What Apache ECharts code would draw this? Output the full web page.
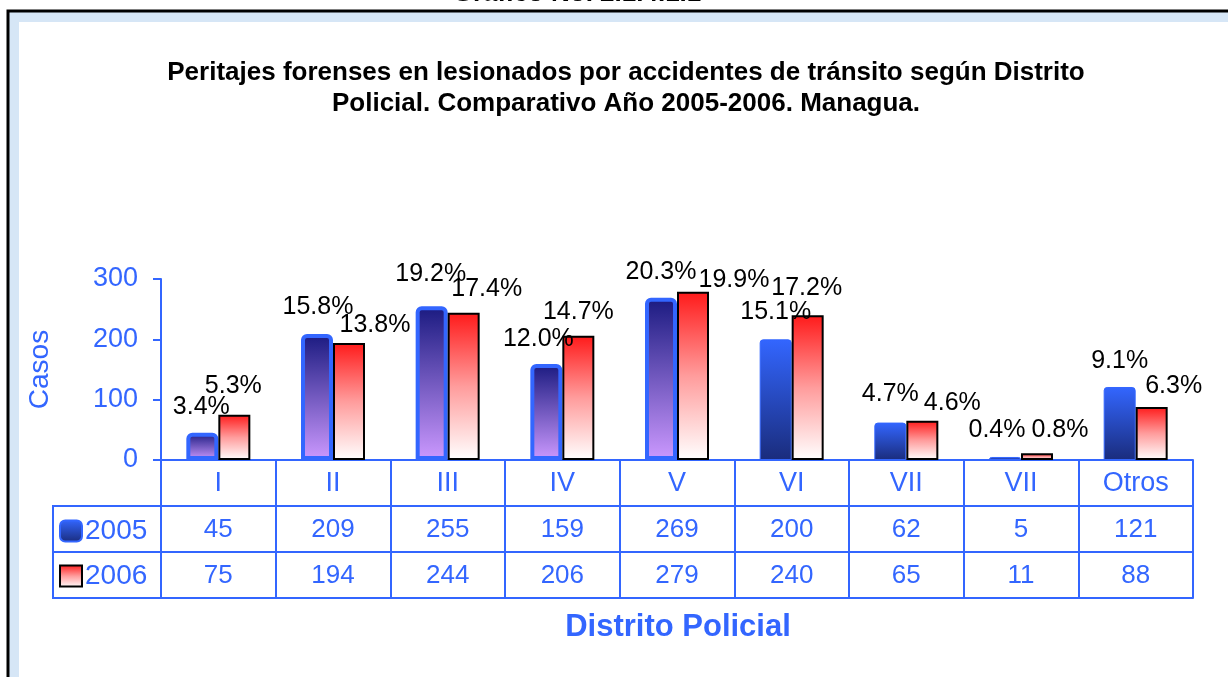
<!DOCTYPE html>
<html>
<head>
<meta charset="utf-8">
<script src="https://cdn.jsdelivr.net/npm/echarts@6/dist/echarts.min.js"></script>
<style>
  html, body { margin: 0; padding: 0; background: #fff; }
  #chart { width: 1228px; height: 677px; }
</style>
</head>
<body>
<div id="chart"></div>
<script>
const categories = ['I', 'II', 'III', 'IV', 'V', 'VI', 'VII', 'VII', 'Otros'];
const casos2005 = [45, 209, 255, 159, 269, 200, 62, 5, 121];
const casos2006 = [75, 194, 244, 206, 279, 240, 65, 11, 88];
const pct2005 = ['3.4%', '15.8%', '19.2%', '12.0%', '20.3%', '15.1%', '4.7%', '0.4%', '9.1%'];
const pct2006 = ['5.3%', '13.8%', '17.4%', '14.7%', '19.9%', '17.2%', '4.6%', '0.8%', '6.3%'];
const yMax = 300;
const yStep = 100;

// ajustes de etiqueta como en el original: [dx, altura sobre la barra]
const shift2005 = [[-1, 26], [1, 27], [-1, 32], [-8, 25], [0, 26], [0, 27], [0, 28], [-8, 27], [0, 26]];
const shift2006 = [[-1, 29], [26, 18], [23, 24], [0, 24], [41, 12], [-1, 27], [30, 18], [23, 23], [22, 21]];
// las cinco primeras barras de 2005 llevan el degradado violeta
const violeta2005 = [true, true, true, true, true, false, false, false, false];

const BLUE = '#3366ff';
const FONT = '"Liberation Sans", Arial, sans-serif';
const GRID = { left: 161, right: 35, top: 279, bottom: 217 };
const ROW = 46;

const chart = echarts.init(document.getElementById('chart'));

const grad = (stops) => new echarts.graphic.LinearGradient(0, 0, 0, 1,
  stops.map(([offset, color]) => ({ offset, color })));
const violetFill = grad([[0, '#1a1a80'], [1, '#cc99ff']]);
const blueFill = grad([[0, '#3366ff'], [1, '#1a2c7c']]);
const redFill = grad([[0, '#ff1a1a'], [0.5, '#ff9c9c'], [1, '#ffffff']]);

const tableAxis = (offset, values) => ({
  type: 'category',
  data: categories,
  position: 'bottom',
  offset: offset,
  axisLine: { show: true, lineStyle: { color: BLUE, width: 2 } },
  axisTick: { show: false },
  axisLabel: {
    show: !!values,
    interval: 0,
    margin: 11,
    color: BLUE,
    fontSize: 26,
    fontFamily: FONT,
    formatter: (v, i) => (values ? String(values[i]) : '')
  }
});

const labelBase = {
  show: true,
  position: 'top',
  distance: 0,
  color: '#000',
  fontSize: 25,
  lineHeight: 24,
  fontFamily: FONT
};

const x0 = GRID.left;
const yAxisBottom = 677 - GRID.bottom;
const leftCol = 53;

chart.setOption({
  animation: false,
  grid: GRID,
  xAxis: [
    {
      type: 'category',
      data: categories,
      axisLine: { lineStyle: { color: BLUE, width: 2 } },
      axisTick: { show: true, interval: 0, length: ROW * 3, lineStyle: { color: BLUE, width: 2 } },
      axisLabel: { interval: 0, margin: 10, color: BLUE, fontSize: 27, fontFamily: FONT }
    },
    tableAxis(ROW, casos2005),
    tableAxis(ROW * 2, casos2006),
    tableAxis(ROW * 3, null)
  ],
  yAxis: {
    type: 'value',
    min: 0,
    max: yMax,
    interval: yStep,
    name: 'Casos',
    nameLocation: 'middle',
    nameGap: 107,
    nameTextStyle: { color: BLUE, fontSize: 28, fontFamily: FONT },
    axisLine: { show: true, lineStyle: { color: BLUE, width: 2 } },
    axisTick: { show: true, length: 8, lineStyle: { color: BLUE, width: 2 } },
    axisLabel: { color: BLUE, fontSize: 27, margin: 23, fontFamily: FONT },
    splitLine: { show: false }
  },
  legend: {
    orient: 'vertical',
    left: 59,
    top: 517,
    padding: 0,
    itemGap: 17,
    itemWidth: 22,
    itemHeight: 21,
    textStyle: { color: BLUE, fontSize: 28, fontFamily: FONT, padding: [0, 0, 0, -2] },
    data: [
      { name: '2005', icon: 'roundRect', itemStyle: { color: blueFill, borderColor: BLUE, borderWidth: 2 } },
      { name: '2006', icon: 'rect', itemStyle: { color: redFill, borderColor: '#000', borderWidth: 2 } }
    ]
  },
  series: [
    {
      name: '2005',
      type: 'bar',
      barWidth: 32,
      barGap: '0%',
      itemStyle: { color: blueFill },
      label: Object.assign({}, labelBase, { formatter: (p) => pct2005[p.dataIndex] }),
      data: casos2005.map((v, i) => ({
        value: v,
        itemStyle: violeta2005[i]
          ? { color: violetFill, borderColor: BLUE, borderWidth: 4, borderRadius: [4, 4, 0, 0] }
          : { color: blueFill, borderColor: BLUE, borderWidth: 1, borderRadius: [3, 3, 0, 0] },
        label: { offset: [shift2005[i][0], 12 - shift2005[i][1]] }
      }))
    },
    {
      name: '2006',
      type: 'bar',
      barWidth: 32,
      barGap: '0%',
      itemStyle: { color: redFill, borderColor: '#000', borderWidth: 2 },
      label: Object.assign({}, labelBase, { formatter: (p) => pct2006[p.dataIndex] }),
      data: casos2006.map((v, i) => ({
        value: v,
        label: { offset: [shift2006[i][0], 12 - shift2006[i][1]] }
      }))
    }
  ],
  graphic: [
    // marco con borde negro y franja azul clara
    { type: 'rect', z: -10, shape: { x: 8, y: 11, width: 1240, height: 700 },
      style: { fill: '#d6e6f6', stroke: '#000', lineWidth: 3 } },
    { type: 'rect', z: -9, shape: { x: 19, y: 22, width: 1240, height: 700 },
      style: { fill: '#fff' } },
    // título del gráfico cortado por el borde superior
    { type: 'text', z: 5, x: 577, y: 7,
      style: { text: 'Gráfico No. 2.1.4.1.1', fill: '#000', font: 'bold 26px ' + FONT, align: 'center', verticalAlign: 'bottom' } },
    { type: 'text', z: 5, x: 626, y: 73,
      style: { text: 'Peritajes forenses en lesionados por accidentes de tránsito según Distrito', fill: '#000', font: 'bold 26px ' + FONT, align: 'center', verticalAlign: 'middle' } },
    { type: 'text', z: 5, x: 626, y: 104,
      style: { text: 'Policial. Comparativo Año 2005-2006. Managua.', fill: '#000', font: 'bold 26px ' + FONT, align: 'center', verticalAlign: 'middle' } },
    { type: 'text', z: 5, x: 678, y: 627,
      style: { text: 'Distrito Policial', fill: BLUE, font: 'bold 31px ' + FONT, align: 'center', verticalAlign: 'middle' } },
    // columna izquierda de la tabla (leyenda)
    { type: 'polyline', z: 5, shape: { points: [[x0, yAxisBottom + ROW], [leftCol, yAxisBottom + ROW], [leftCol, yAxisBottom + ROW * 3], [x0, yAxisBottom + ROW * 3]] },
      style: { stroke: BLUE, lineWidth: 2, fill: null } },
    { type: 'line', z: 5, shape: { x1: leftCol, y1: yAxisBottom + ROW * 2, x2: x0, y2: yAxisBottom + ROW * 2 },
      style: { stroke: BLUE, lineWidth: 2 } }
  ]
});
</script>
</body>
</html>
